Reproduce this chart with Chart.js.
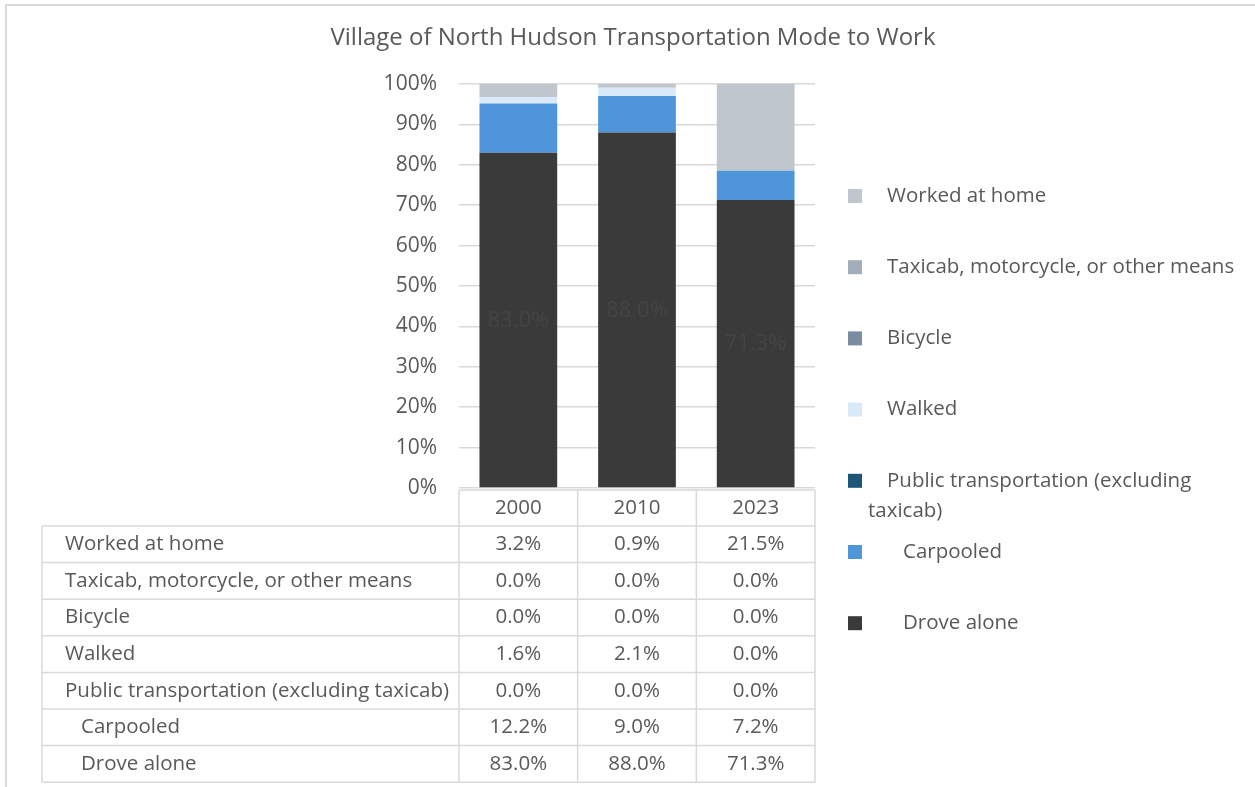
<!DOCTYPE html>
<html>
<head>
<meta charset="utf-8">
<script src="https://cdn.jsdelivr.net/npm/chart.js@4"></script>
<style>
  body { margin: 0; background: #fff; }
  #wrap { width: 1255px; height: 787px; position: relative; }
</style>
</head>
<body>
<div id="wrap"><canvas id="modes" width="1255" height="787"></canvas></div>
<script>
const years = ['2000', '2010', '2023'];

const droveAlone = [83.0, 88.0, 71.3];
const carpooled = [12.2, 9.0, 7.2];
const publicTransit = [0.0, 0.0, 0.0];
const walked = [1.6, 2.1, 0.0];
const bicycle = [0.0, 0.0, 0.0];
const taxiOther = [0.0, 0.0, 0.0];
const workedHome = [3.2, 0.9, 21.5];

const FONT = '"Open Sans", sans-serif';
const TEXT = '#595959';
const LINE = '#d9d9d9';
const TITLE = 'Village of North Hudson Transportation Mode to Work';

const datasets = [
    {label: '   Drove alone', data: droveAlone, backgroundColor: '#3a3a3a'},
    {label: '   Carpooled', data: carpooled, backgroundColor: '#4e95d9'},
    {label: 'Public transportation (excluding taxicab)', data: publicTransit, backgroundColor: '#1b5676'},
    {label: 'Walked', data: walked, backgroundColor: '#dae9f8'},
    {label: 'Bicycle', data: bicycle, backgroundColor: '#7a8ca0'},
    {label: 'Taxicab, motorcycle, or other means', data: taxiOther, backgroundColor: '#a1adba'},
    {label: 'Worked at home', data: workedHome, backgroundColor: '#bfc6cd'}
];

// title, legend, data table, labels and frame
const extras = {
    id: 'extras',
    afterDraw(chart) {
        const ctx = chart.ctx;
        const area = chart.chartArea;
        const x = chart.scales.x;
        const y = chart.scales.y;
        const colW = area.width / years.length;
        ctx.save();

        // frame
        ctx.strokeStyle = LINE;
        ctx.lineWidth = 2;
        ctx.beginPath();
        ctx.moveTo(6, 800); ctx.lineTo(6, 5); ctx.lineTo(1260, 5);
        ctx.stroke();

        // title
        ctx.font = '24px ' + FONT;
        ctx.fillStyle = TEXT;
        ctx.textAlign = 'center';
        ctx.textBaseline = 'middle';
        ctx.fillText(TITLE, 633, 38);

        // value labels inside "Drove alone"
        ctx.font = '22px ' + FONT;
        ctx.fillStyle = '#444444';
        droveAlone.forEach((v, i) => {
            ctx.fillText(v.toFixed(1) + '%', x.getPixelForValue(i), y.getPixelForValue(v / 2));
        });

        // legend
        ctx.textAlign = 'left';
        ctx.font = '20.5px ' + FONT;
        const rev = datasets.slice().reverse();
        rev.forEach((ds, i) => {
            const ly = 196 + i * 71.2;
            ctx.fillStyle = ds.backgroundColor;
            ctx.fillRect(848, ly - 7, 14, 14);
            ctx.fillStyle = TEXT;
            if (ds.label.startsWith('Public')) {
                ctx.fillText('Public transportation (excluding', 887, ly);
                ctx.fillText('taxicab)', 868, ly + 30);
            } else {
                ctx.fillText(ds.label, 887, ly);
            }
        });

        // data table
        const top = area.bottom + 2;
        const headH = 36;
        const rowH = 36.6;
        const tLeft = 42;
        const bodyTop = top + headH;
        const bottom = bodyTop + rev.length * rowH;
        ctx.strokeStyle = LINE;
        ctx.lineWidth = 1.5;
        ctx.beginPath();
        ctx.moveTo(area.left, top); ctx.lineTo(area.right, top);
        for (let r = 0; r <= rev.length; r++) {
            const ry = bodyTop + r * rowH;
            ctx.moveTo(tLeft, ry); ctx.lineTo(area.right, ry);
        }
        ctx.moveTo(tLeft, bodyTop); ctx.lineTo(tLeft, bottom);
        for (let c = 0; c <= years.length; c++) {
            const cx = area.left + c * colW;
            ctx.moveTo(cx, top); ctx.lineTo(cx, bottom);
        }
        ctx.stroke();

        ctx.font = '20.5px ' + FONT;
        ctx.fillStyle = TEXT;
        ctx.textAlign = 'center';
        years.forEach((yr, i) => ctx.fillText(yr, x.getPixelForValue(i), top + headH / 2));
        rev.forEach((ds, r) => {
            const ry = bodyTop + r * rowH + rowH / 2;
            ctx.textAlign = 'left';
            ctx.fillText(ds.label, 65, ry);
            ctx.textAlign = 'center';
            ds.data.forEach((v, i) => ctx.fillText(v.toFixed(1) + '%', x.getPixelForValue(i), ry));
        });
        ctx.restore();
    }
};

new Chart(document.getElementById('modes'), {
    type: 'bar',
    data: {labels: years, datasets: datasets},
    options: {
        responsive: false,
        animation: false,
        barPercentage: 0.655,
        categoryPercentage: 1,
        layout: {padding: {top: 84, right: 440, bottom: 299, left: 0}},
        plugins: {
            legend: {display: false},
            tooltip: {enabled: false},
            title: {display: false}
        },
        scales: {
            x: {stacked: true, display: false},
            y: {
                stacked: true,
                min: 0,
                max: 100,
                border: {display: false},
                grid: {color: LINE, lineWidth: 1.5, drawTicks: false},
                ticks: {
                    stepSize: 10,
                    padding: 22,
                    color: TEXT,
                    font: {family: FONT, size: 21},
                    callback: v => v + '%'
                },
                afterFit(scale) { scale.width = 459; }
            }
        }
    },
    plugins: [extras]
});
</script>
</body>
</html>
